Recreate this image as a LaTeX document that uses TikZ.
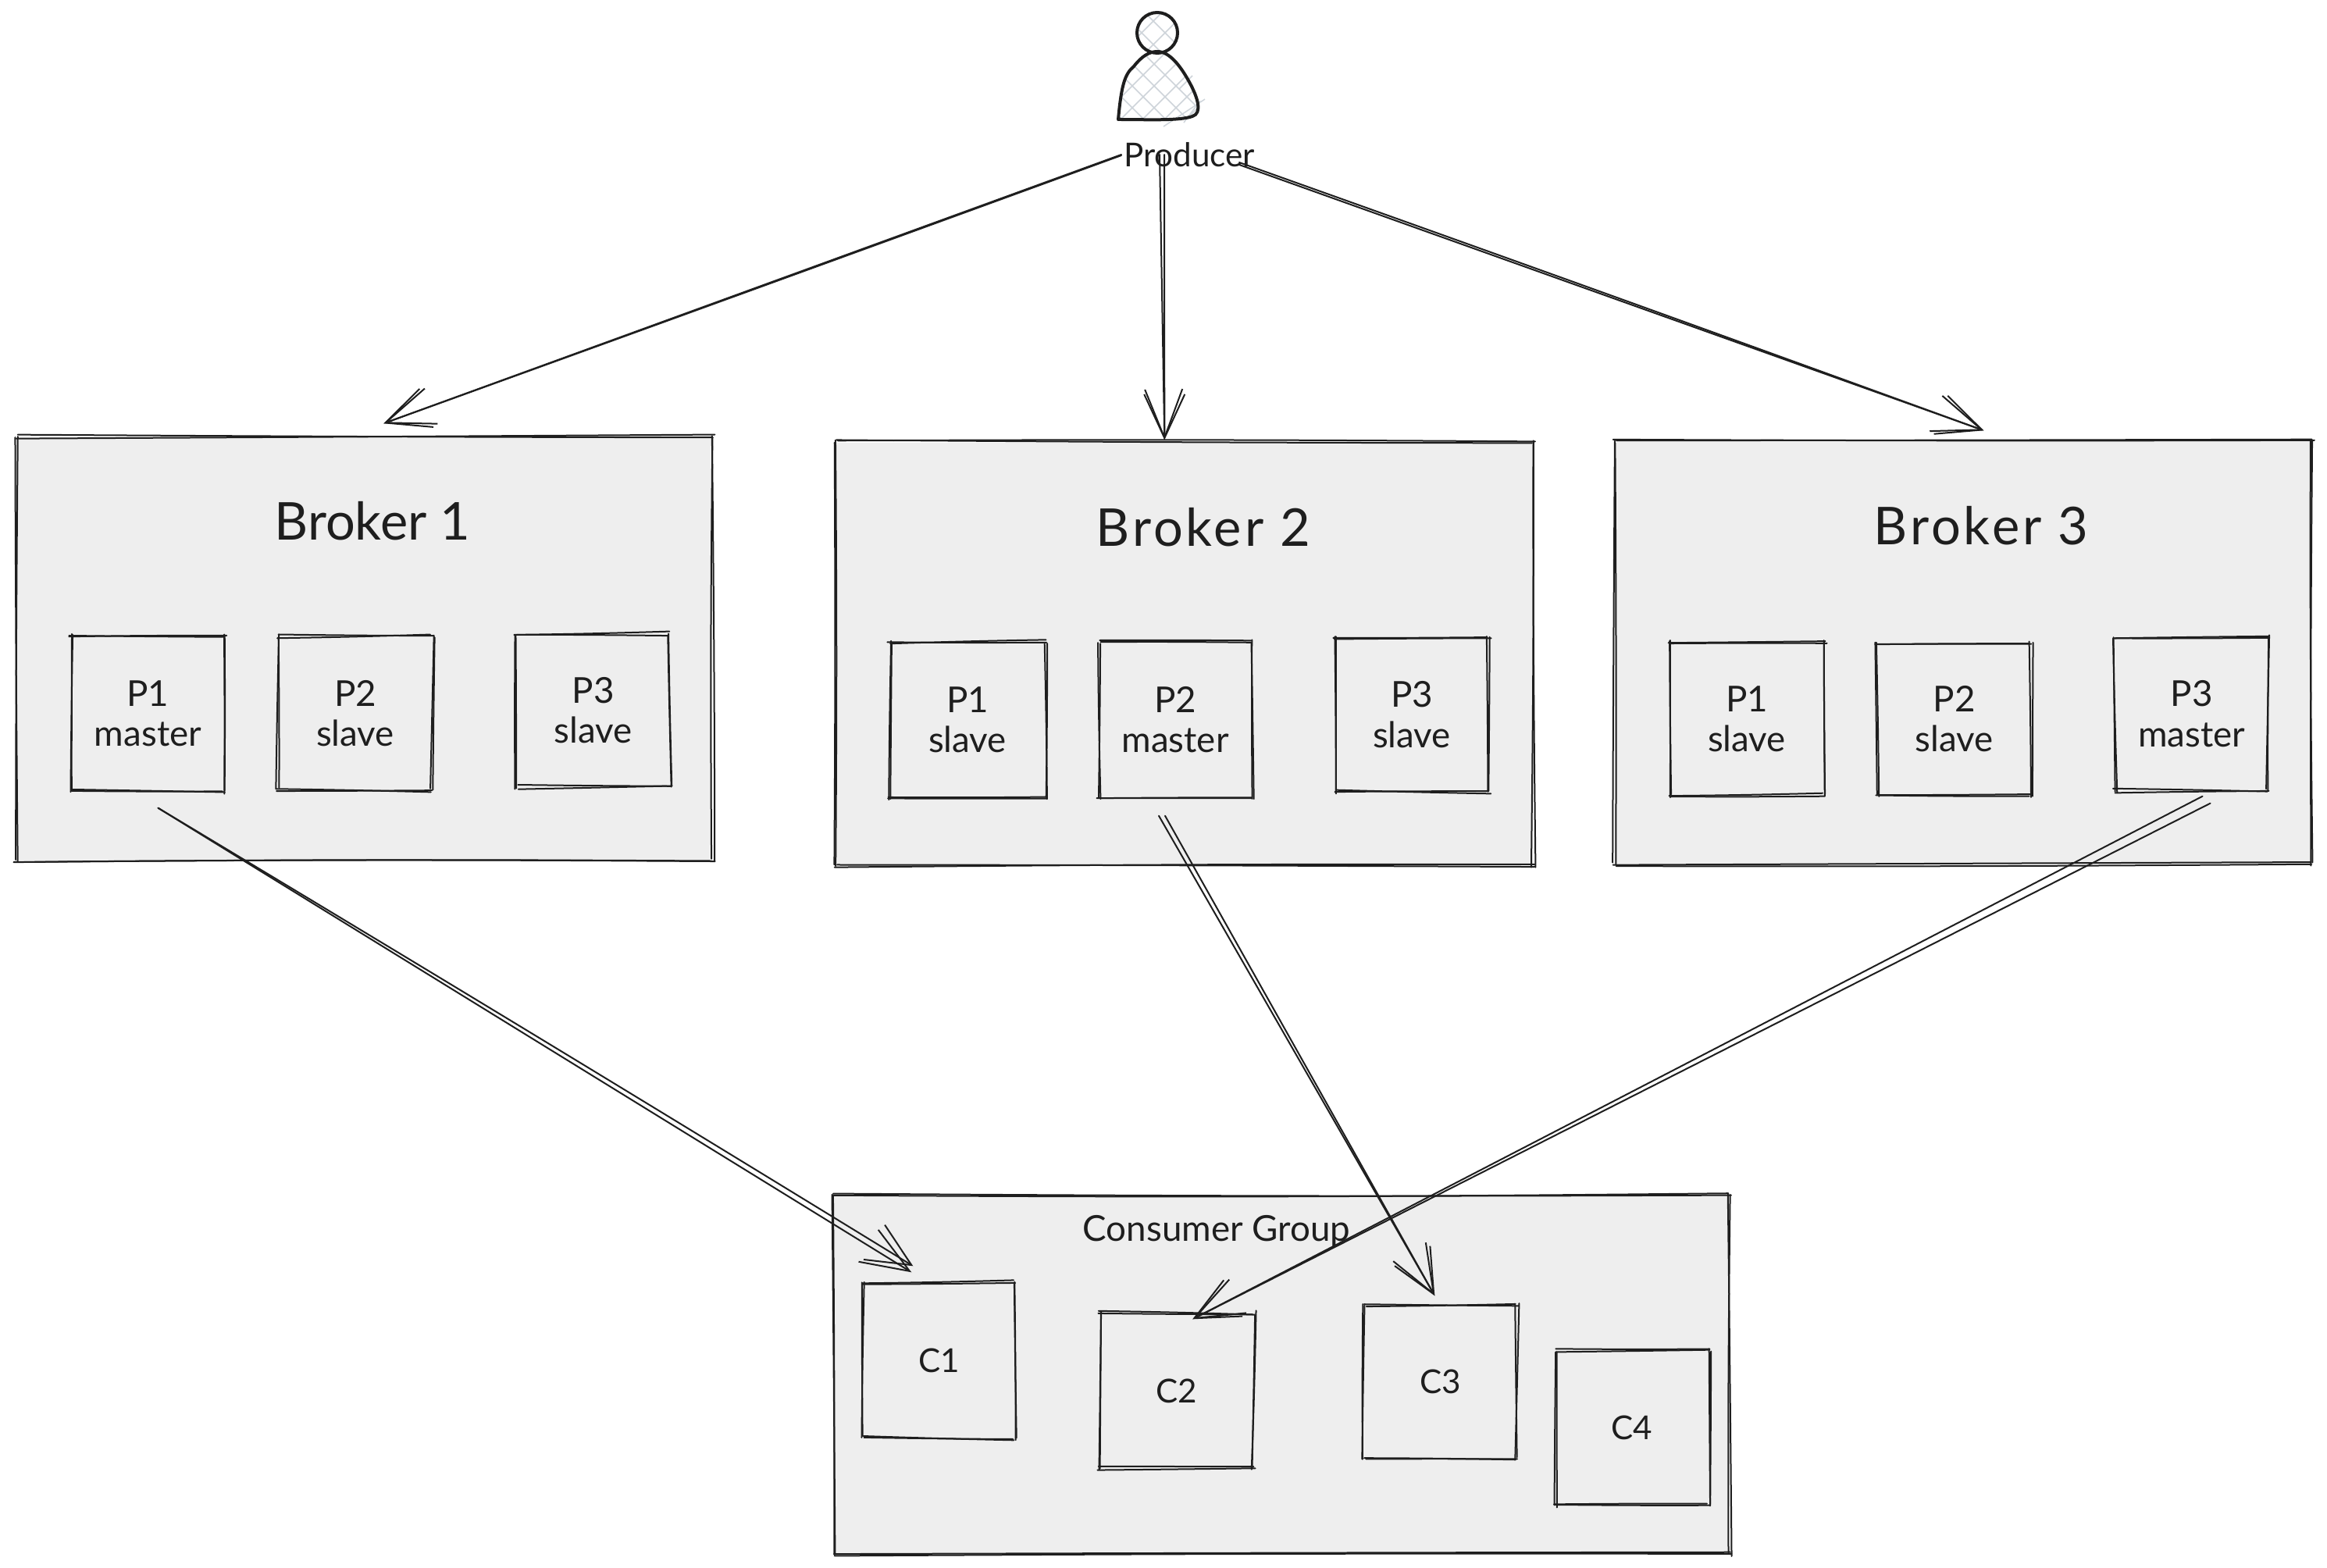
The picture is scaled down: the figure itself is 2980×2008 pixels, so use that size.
\documentclass[tikz,border=0pt]{standalone}
\usepackage{fontspec}
\setmainfont{Lato}
\usetikzlibrary{arrows.meta}
\definecolor{ink}{HTML}{1E1E1E}
\definecolor{boxfill}{HTML}{EEEEEE}
\definecolor{hatch}{HTML}{CED4DA}
\tikzset{
  skline/.style={draw=ink,line width=0.2mm,line cap=round},
  boxnode/.style={rectangle,fill=boxfill,inner sep=0pt,text=ink,align=center},
  small/.style={font=\fontsize{13}{14.6}\selectfont},
  clabel/.style={font=\fontsize{12}{14.6}\selectfont},
  titletext/.style={text=ink,font=\fontsize{19}{23}\selectfont,inner sep=0pt},
  widetitle/.style={text=ink,font=\fontsize{19}{23}\selectfont\addfontfeature{LetterSpace=6},inner sep=0pt},
  grouptext/.style={text=ink,font=\fontsize{13}{16}\selectfont,inner sep=0pt},
  prodtext/.style={text=ink,font=\fontsize{12}{15}\selectfont,inner sep=0pt},
  tipa/.style={-{Straight Barb[length=6.2mm,width=4.8mm]}},
  tipb/.style={-{Straight Barb[length=5.6mm,width=5.2mm]}},
}
% one sketched edge: two strokes between two anchors, each a little off
\newcommand{\skedge}[2]{%
  \foreach \k in {1,2}{%
    \pgfmathsetmacro\ax{rand*3}\pgfmathsetmacro\ay{rand*3}%
    \pgfmathsetmacro\bx{rand*3}\pgfmathsetmacro\by{rand*3}%
    \pgfmathsetmacro\bd{rand*0.5}%
    \draw[skline] ([shift={(\ax,\ay)}]#1) to[bend left=\bd] ([shift={(\bx,\by)}]#2);
  }%
}
% name, x1, y1, x2, y2, label options, label
\newcommand{\skbox}[7]{%
  \pgfmathsetmacro\bw{(#4-#2)*0.1}\pgfmathsetmacro\bh{(#5-#3)*0.1}%
  \node[boxnode,#6,minimum width=\bw mm,minimum height=\bh mm] (#1) at ({(#2+#4)/2},{(#3+#5)/2}) {#7};
  \skedge{#1.north west}{#1.north east}
  \skedge{#1.north east}{#1.south east}
  \skedge{#1.south east}{#1.south west}
  \skedge{#1.south west}{#1.north west}
}
% two strokes of one connector, the second slightly bowed
\newcommand{\skconn}[5]{%
  \draw[skline,tipa] #1 -- #2;
  \draw[skline,tipb] #3 to[bend left=#5] #4;
}
\begin{document}
\begin{tikzpicture}[x=0.1mm,y=-0.1mm]
\pgfmathsetseed{4711}
\useasboundingbox (0,0) rectangle (2980,2008);
\fill[white] (0,0) rectangle (2980,2008);

% Brokers
\skbox{broker1}{21}{560}{912}{1102}{}{}
\skbox{broker2}{1071}{567}{1963}{1108}{}{}
\skbox{broker3}{2068}{565}{2961}{1106}{}{}
\node[titletext] (title1) at (477,667) {Broker 1};
\node[widetitle] (title2) at (1541,675) {Broker 2};
\node[widetitle] (title3) at (2537,673) {Broker 3};

\skbox{b1p1}{92}{814}{287}{1013}{small}{P1\\master}
\skbox{b1p2}{357}{816}{553}{1011}{small}{P2\\slave}
\skbox{b1p3}{662}{812}{857}{1007}{small}{P3\\slave}
\skbox{b2p1}{1140}{823}{1338}{1021}{small}{P1\\slave}
\skbox{b2p2}{1408}{823}{1602}{1020}{small}{P2\\master}
\skbox{b2p3}{1710}{817}{1906}{1013}{small}{P3\\slave}
\skbox{b3p1}{2138}{823}{2336}{1018}{small}{P1\\slave}
\skbox{b3p2}{2405}{823}{2600}{1018}{small}{P2\\slave}
\skbox{b3p3}{2709}{816}{2904}{1012}{small}{P3\\master}

% Consumer group
\skbox{group}{1068}{1531}{2214}{1990}{}{}
\node[grouptext] (grouplabel) at (1558,1577) {Consumer Group};
\skbox{c1}{1106}{1643}{1299}{1841}{clabel}{C1}
\skbox{c2}{1408}{1682}{1605}{1880}{clabel}{C2}
\skbox{c3}{1748}{1671}{1942}{1868}{clabel}{C3}
\skbox{c4}{1992}{1730}{2188}{1927}{clabel}{C4}

% Producer figure
\begin{scope}
  \clip (1482,42) circle (26);
  \foreach \d in {-200,-170,...,200}{
    \draw[hatch,line width=0.15mm] (1482+\d-60,42-60) -- (1482+\d+60,42+60);
    \draw[hatch,line width=0.15mm] (1482+\d-60,42+60) -- (1482+\d+60,42-60);
  }
\end{scope}
\begin{scope}
  \clip (1432,153) .. controls (1436,110) and (1440,95) .. (1452,85)
        .. controls (1462,72) and (1472,66) .. (1482,66)
        .. controls (1498,66) and (1512,85) .. (1523,105)
        .. controls (1534,125) and (1540,145) .. (1527,149)
        .. controls (1510,155) and (1470,153) .. (1432,153) -- cycle;
  \foreach \d in {-200,-172,...,200}{
    \draw[hatch,line width=0.15mm] (1482+\d-120,110-120) -- (1482+\d+120,110+120);
    \draw[hatch,line width=0.15mm] (1482+\d-120,110+120) -- (1482+\d+120,110-120);
  }
\end{scope}
\draw[hatch,line width=0.15mm] (1543,127) -- (1490,162);
\draw[hatch,line width=0.15mm] (1527,97) -- (1510,114);
\draw[hatch,line width=0.15mm] (1537,129) -- (1516,157);
\node[circle,draw=ink,line width=0.4mm,minimum size=5.2mm,inner sep=0pt] (head) at (1482,42) {};
\draw[ink,line width=0.4mm,line join=round] (1432,153) .. controls (1436,110) and (1440,95) .. (1452,85)
        .. controls (1462,72) and (1472,66) .. (1482,66)
        .. controls (1498,66) and (1512,85) .. (1523,105)
        .. controls (1534,125) and (1540,145) .. (1527,149)
        .. controls (1510,155) and (1470,153) .. (1432,153) -- cycle;
\node[prodtext] (producer) at (1523,198) {Producer};

% Connectors
\skconn{([shift={(-87,0)}]producer.center)}{([shift={(471,-17)}]broker1.north west)}
       {([shift={(-87,1)}]producer.center)}{([shift={(471,-17)}]broker1.north west)}{0.1}
\skconn{([shift={(-38,0)}]producer.center)}{([shift={(421,-3)}]broker2.north west)}
       {([shift={(-32,0)}]producer.center)}{([shift={(421,-3)}]broker2.north west)}{0}
\skconn{([shift={(64,13)}]producer.center)}{([shift={(473,-13)}]broker3.north west)}
       {([shift={(64,10)}]producer.center)}{([shift={(473,-13)}]broker3.north west)}{0.2}
\skconn{([shift={(13,21)}]b1p1.south)}{([shift={(62,-13)}]c1.north west)}
       {([shift={(13,21)}]b1p1.south)}{([shift={(64,-21)}]c1.north west)}{0.25}
\skconn{([shift={(-21,24)}]b2p2.south)}{([shift={(90,-11)}]c3.north west)}
       {([shift={(-13,24)}]b2p2.south)}{([shift={(90,-11)}]c3.north west)}{0}
\skconn{([shift={(24,16)}]b3p3.south)}{([shift={(120,8)}]c2.north west)}
       {([shift={(14,7)}]b3p3.south)}{([shift={(120,8)}]c2.north west)}{0}
\end{tikzpicture}
\end{document}
